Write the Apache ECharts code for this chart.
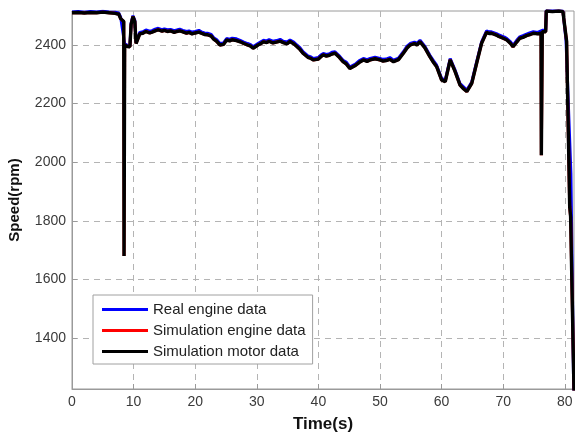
<!DOCTYPE html>
<html>
<head>
<meta charset="utf-8">
<script src="https://cdn.jsdelivr.net/npm/echarts@6/dist/echarts.min.js"></script>
<style>
  html, body { margin: 0; padding: 0; background: #fff; }
  #chart { width: 575px; height: 432px; }
</style>
</head>
<body>
<div id="chart"></div>
<script>
// Engine speed trace (rpm) over time (s)
const motorTime = [0, 1, 2, 3, 4, 5, 6, 7, 7.6, 7.9, 8.2, 8.4, 8.45, 8.5, 8.55, 9.0, 9.4, 9.6, 9.9, 10.2, 10.4, 10.7, 11.0, 11.5,
  12, 12.6, 13, 13.5, 14, 14.6, 15, 15.5, 16, 16.6, 17, 17.5, 18, 18.6, 19, 19.5, 20, 20.6, 21, 21.5, 22, 22.6, 23, 23.5, 24, 24.6, 25.1, 25.6, 26, 26.7, 27.3, 27.9, 28.5, 29.0, 29.4, 30.2, 30.6, 31.1, 31.6, 32, 32.6, 33.2, 33.8, 34.3, 34.9, 35.4,
  36.0, 36.5, 37.0, 37.5, 38.3, 38.8, 39.2, 40, 40.4, 40.8, 41.3, 41.8, 42.2, 42.7, 43.3, 44.0, 44.5, 45.1, 46, 46.6, 47.3, 47.9, 48.4, 49.2, 50, 50.5, 51, 51.6, 52.2, 53, 53.8, 54.4, 54.9, 55.6, 56.0, 56.5,
  57.3, 58.1, 58.7, 59.2, 60.0, 60.6, 61.4, 62.2, 63.0, 63.6, 64.1, 64.9, 65.7, 66.5, 67.3, 67.7, 68.1, 68.9, 69.3, 69.8, 70.2, 70.6, 71.2, 71.6, 72.2, 72.7, 73.2, 73.8,
  74.3, 74.9, 75.6, 76.15, 76.2, 76.3, 76.35, 76.9, 77.0, 78, 79, 79.7, 80.3, 80.8, 80.95, 81.1, 81.5];
const motorSpeed = [2510, 2511, 2509, 2511, 2510, 2512, 2510, 2508, 2505, 2490, 2488, 2480, 1680, 1680, 2400, 2395, 2394, 2470, 2497, 2480, 2405, 2410, 2438, 2440,
  2446, 2441, 2444, 2448, 2452, 2447, 2450, 2446, 2448, 2443, 2446, 2448, 2445, 2440, 2443, 2438, 2441, 2444, 2440, 2436, 2435, 2430, 2420, 2412, 2400, 2402, 2417, 2414, 2418, 2415, 2411, 2405, 2400, 2396, 2389, 2400, 2404, 2411, 2408, 2413, 2407, 2410, 2413, 2408, 2404, 2412,
  2404, 2395, 2385, 2372, 2358, 2354, 2349, 2352, 2360, 2366, 2362, 2365, 2369, 2372, 2360, 2343, 2336, 2320, 2330, 2340, 2349, 2344, 2349, 2353, 2349, 2345, 2347, 2351, 2343, 2350, 2372, 2390, 2400, 2405, 2400, 2411,
  2390, 2360, 2340, 2326, 2281, 2275, 2349, 2309, 2263, 2250, 2241, 2269, 2338, 2406, 2443, 2439, 2440, 2434, 2429, 2425, 2421, 2417, 2405, 2394, 2410, 2423, 2426, 2432,
  2435, 2440, 2438, 2440, 2024, 2024, 2445, 2445, 2516, 2514, 2516, 2514, 2413, 1848, 1814, 1814, 1220];

const engineSimTime = motorTime.slice();
const engineSimSpeed = [2510, 2511, 2509, 2511, 2510, 2512, 2510, 2508, 2505, 2490, 2488, 2480, 1680, 1680, 2400, 2395, 2394, 2470, 2497, 2480, 2405, 2410, 2438, 2440,
  2446, 2441, 2444, 2448, 2452, 2447, 2450, 2446, 2448, 2443, 2446, 2448, 2445, 2440, 2443, 2438, 2441, 2444, 2440, 2436, 2435, 2430, 2420, 2412, 2400, 2402, 2417, 2414, 2418, 2415, 2411, 2405, 2400, 2396, 2389, 2400, 2404, 2411, 2408, 2413, 2407, 2410, 2413, 2408, 2404, 2412,
  2404, 2395, 2385, 2372, 2358, 2354, 2349, 2352, 2360, 2366, 2362, 2365, 2369, 2372, 2360, 2343, 2336, 2320, 2330, 2340, 2349, 2344, 2349, 2353, 2349, 2345, 2347, 2351, 2343, 2350, 2372, 2390, 2400, 2405, 2400, 2411,
  2390, 2360, 2340, 2326, 2281, 2275, 2349, 2309, 2263, 2250, 2241, 2269, 2338, 2406, 2443, 2439, 2440, 2434, 2429, 2425, 2421, 2417, 2405, 2394, 2410, 2423, 2426, 2432,
  2435, 2440, 2438, 2440, 2024, 2024, 2445, 2445, 2516, 2514, 2516, 2514, 2413, 1848, 1814, 1814, 1220];

const realTime = [0, 1, 2, 3, 4, 5, 6, 7, 7.6, 7.9, 8.2, 8.55, 9.0, 9.4, 9.6, 9.9, 10.2, 10.4, 10.7, 11.0, 11.5,
  12, 12.6, 13, 13.5, 14, 14.6, 15, 15.5, 16, 16.6, 17, 17.5, 18, 18.6, 19, 19.5, 20, 20.6, 21, 21.5, 22, 22.6, 23, 23.5, 24, 24.6, 25.1, 25.6, 26, 26.7, 27.3, 27.9, 28.5, 29.0, 29.4, 30.2, 30.6, 31.1, 31.6, 32, 32.6, 33.2, 33.8, 34.3, 34.9, 35.4,
  36.0, 36.5, 37.0, 37.5, 38.3, 38.8, 39.2, 40, 40.4, 40.8, 41.3, 41.8, 42.2, 42.7, 43.3, 44.0, 44.5, 45.1, 46, 46.6, 47.3, 47.9, 48.4, 49.2, 50, 50.5, 51, 51.6, 52.2, 53, 53.8, 54.4, 54.9, 55.6, 56.0, 56.5,
  57.3, 58.1, 58.7, 59.2, 60.0, 60.6, 61.4, 62.2, 63.0, 63.6, 64.1, 64.9, 65.7, 66.5, 67.3, 67.7, 68.1, 68.9, 69.3, 69.8, 70.2, 70.6, 71.2, 71.6, 72.2, 72.7, 73.2, 73.8,
  74.3, 74.9, 75.6, 76.35, 76.9, 77.0, 78, 79, 79.7, 80.2, 81.0, 81.45];
const realSpeed = [2513, 2514, 2512, 2514, 2513, 2515, 2513, 2512, 2509, 2495, 2492, 2404, 2399, 2398, 2475, 2500, 2484, 2409, 2414, 2443, 2445,
  2451, 2447, 2449, 2454, 2457, 2452, 2455, 2452, 2453, 2449, 2451, 2454, 2450, 2446, 2448, 2444, 2446, 2450, 2445, 2441, 2440, 2436, 2425, 2418, 2405, 2407, 2422, 2420, 2423, 2421, 2416, 2410, 2405, 2401, 2394, 2405, 2410, 2416, 2414, 2418, 2413, 2415, 2419, 2413, 2410, 2417,
  2410, 2400, 2391, 2377, 2363, 2359, 2354, 2357, 2366, 2371, 2368, 2370, 2375, 2377, 2365, 2348, 2342, 2325, 2335, 2346, 2354, 2350, 2354, 2358, 2354, 2351, 2352, 2357, 2348, 2355, 2377, 2396, 2405, 2410, 2406, 2416,
  2395, 2365, 2346, 2331, 2286, 2280, 2354, 2314, 2268, 2256, 2246, 2274, 2343, 2411, 2448, 2445, 2445, 2439, 2435, 2430, 2427, 2422, 2411, 2399, 2416, 2428, 2432, 2437,
  2441, 2445, 2443, 2450, 2450, 2518, 2518, 2518, 2516, 2418, 1960, 1220];

const xTicks = [0, 10, 20, 30, 40, 50, 60, 70, 80];
const yTicks = [1400, 1600, 1800, 2000, 2200, 2400];

const pair = (ts, vs) => ts.map((t, i) => [t, vs[i]]);

const chart = echarts.init(document.getElementById('chart'), null, { renderer: 'canvas' });
const grey = '#9a9a9a';
const gridLine = { show: true, lineStyle: { color: '#b4b4b4', type: [6, 5], width: 1 } };

chart.setOption({
  animation: false,
  backgroundColor: '#ffffff',
  textStyle: { fontFamily: 'Liberation Sans, Arial, sans-serif' },
  grid: { left: 72, right: 1, top: 11, bottom: 43, outerBoundsMode: 'none', containLabel: false,
    show: true, borderColor: grey, borderWidth: 1, backgroundColor: 'transparent' },
  xAxis: {
    type: 'value', min: 0, max: 81.5,
    name: 'Time(s)', nameLocation: 'middle', nameGap: 27,
    nameTextStyle: { fontSize: 17, fontWeight: 'bold', color: '#111' },
    axisLine: { show: true, lineStyle: { color: grey } },
    axisTick: { show: true, inside: true, length: 5, lineStyle: { color: grey }, customValues: xTicks },
    axisLabel: { color: '#3a3a3a', fontSize: 14, margin: 6, customValues: xTicks, formatter: v => String(v) },
    splitLine: gridLine
  },
  yAxis: {
    type: 'value', min: 1226, max: 2516,
    name: 'Speed(rpm)', nameLocation: 'middle', nameGap: 50, nameRotate: 90,
    nameTextStyle: { fontSize: 15, fontWeight: 'bold', color: '#111' },
    axisLine: { show: true, lineStyle: { color: grey } },
    axisTick: { show: true, inside: true, length: 5, lineStyle: { color: grey }, customValues: yTicks },
    axisLabel: { color: '#3a3a3a', fontSize: 14, margin: 6, customValues: yTicks, formatter: v => String(v) },
    splitLine: gridLine
  },
  legend: {
    orient: 'vertical', left: 93, top: 295,
    padding: [7, 7, 5, 9], itemGap: 6,
    itemWidth: 46, itemHeight: 3,
    backgroundColor: '#fff', borderColor: '#a0a0a0', borderWidth: 1,
    textStyle: { fontSize: 15, color: '#222', lineHeight: 15 },
    data: [
      { name: 'Real engine data', icon: 'rect' },
      { name: 'Simulation engine data', icon: 'rect' },
      { name: 'Simulation motor data', icon: 'rect' }
    ]
  },
  series: [
    { name: 'Real engine data', type: 'line', data: pair(realTime, realSpeed), showSymbol: false, symbol: 'none',
      lineStyle: { color: '#0000ff', width: 3 }, itemStyle: { color: '#0000ff' }, z: 2 },
    { name: 'Simulation engine data', type: 'line', data: pair(engineSimTime, engineSimSpeed), showSymbol: false, symbol: 'none',
      lineStyle: { color: '#ff0000', width: 3 }, itemStyle: { color: '#ff0000' }, z: 3 },
    { name: 'Simulation motor data', type: 'line', data: pair(motorTime, motorSpeed), showSymbol: false, symbol: 'none',
      lineStyle: { color: '#000000', width: 3.4 }, itemStyle: { color: '#000000' }, z: 4 }
  ]
});
</script>
</body>
</html>
